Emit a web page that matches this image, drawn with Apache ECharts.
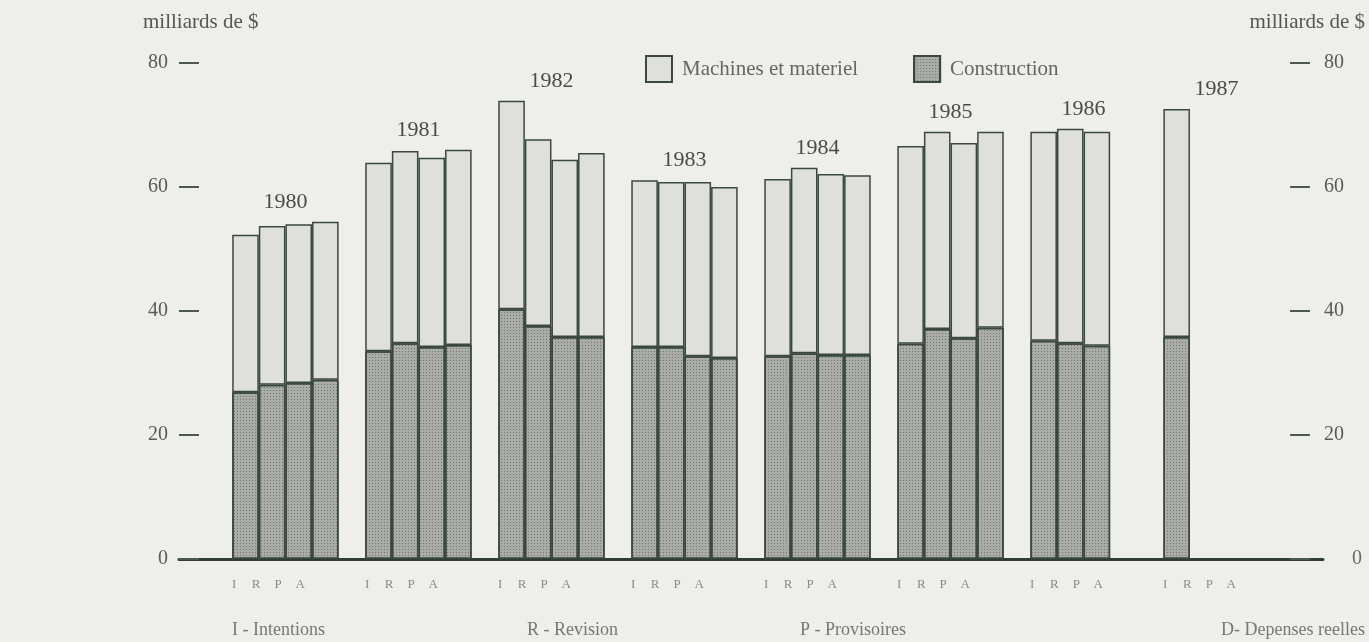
<!DOCTYPE html>
<html>
<head>
<meta charset="utf-8">
<script src="https://cdn.jsdelivr.net/npm/echarts@6/dist/echarts.min.js"></script>
<style>
  html, body { margin: 0; padding: 0; background: #eeeeea; }
  #chart { width: 1369px; height: 642px; }
</style>
</head>
<body>
<div id="chart"></div>
<script>
// Investment intentions / revisions, stacked by type, billions of dollars.
const years = ["1980", "1981", "1982", "1983", "1984", "1985", "1986", "1987"];
const phases = ["I", "R", "P", "A"];
// per year: I, R, P, A (missing estimates are simply absent)
const construction = [
  [26.9, 28.1, 28.4, 28.9],
  [33.5, 34.8, 34.2, 34.5],
  [40.3, 37.6, 35.8, 35.8],
  [34.2, 34.2, 32.7, 32.4],
  [32.7, 33.2, 32.9, 32.9],
  [34.7, 37.1, 35.6, 37.3],
  [35.2, 34.8, 34.4],
  [35.8],
];
const machines = [
  [25.4, 25.6, 25.6, 25.5],
  [30.4, 31.0, 30.5, 31.5],
  [33.6, 30.1, 28.6, 29.7],
  [26.9, 26.6, 28.1, 27.6],
  [28.6, 29.9, 29.2, 29.0],
  [31.9, 31.8, 31.5, 31.6],
  [33.7, 34.6, 34.5],
  [36.8],
];

const FONT = "'Liberation Serif', 'DejaVu Serif', serif";
const LEAD = 2, GAP = 1, TAIL = 2; // empty slots before, between and after groups

// build one category slot per bar position
const slots = [], slotCons = [], slotMach = [], groupR = [], groupMax = [];
const blank = () => { slots.push("s" + slots.length); slotCons.push("-"); slotMach.push("-"); };
for (let i = 0; i < LEAD; i++) blank();
years.forEach((y, g) => {
  if (g > 0) for (let i = 0; i < GAP; i++) blank();
  let mx = 0;
  phases.forEach((p, k) => {
    if (k === 1) groupR.push(slots.length);
    slots.push(y + p);
    const c = construction[g][k], m = machines[g][k];
    slotCons.push(c == null ? "-" : c);
    slotMach.push(m == null ? "-" : m);
    if (c != null) mx = Math.max(mx, c + m);
  });
  groupMax.push(mx);
});
for (let i = 0; i < TAIL; i++) blank();

const chart = echarts.init(document.getElementById("chart"), null, { renderer: "canvas" });

const barBorder = { borderColor: "#3b4840", borderWidth: 1.5 };
const yAxisBase = {
  type: "value", min: 0, max: 80, interval: 20,
  axisLine: { show: false },
  axisTick: { show: true, inside: true, length: 20, lineStyle: { color: "#4a5a50", width: 2 } },
  splitLine: { show: false },
  axisLabel: { fontFamily: FONT, fontSize: 20, color: "#5a5a58" },
};

chart.setOption({
  backgroundColor: "#eeeeea",
  animation: false,
  textStyle: { fontFamily: FONT },
  legend: {
    left: 640, top: 50, icon: "rect",
    itemWidth: 26, itemHeight: 26, itemGap: 55,
    data: ["Machines et materiel", "Construction"],
    textStyle: { fontFamily: FONT, fontSize: 21, color: "#666", padding: [0, 0, 0, 5] },
  },
  grid: { left: 179, right: 46, top: 63, bottom: 83 },
  xAxis: {
    type: "category", data: slots,
    axisLine: { lineStyle: { color: "#2f3d34", width: 3 } },
    axisTick: { show: false },
    axisLabel: {
      interval: 0, margin: 19,
      formatter: (v, i) => (groupR.includes(i) ? phases.map((p) => "{l|" + p + "}").join("") + "{e|}" : ""),
      rich: {
        l: { width: 22, align: "center", fontFamily: FONT, fontSize: 13, color: "#8a8a86" },
        e: { width: 10 },
      },
    },
  },
  yAxis: [
    { ...yAxisBase, position: "left", axisLabel: { ...yAxisBase.axisLabel, margin: 11 } },
    {
      ...yAxisBase, position: "right", offset: -13,
      axisLabel: {
        ...yAxisBase.axisLabel, margin: 14,
        formatter: (v) => (v === 0 ? "{z|0}" : String(v)),
        rich: { z: { padding: [0, 0, 0, 28], fontFamily: FONT, fontSize: 20, color: "#6a6a68" } },
      },
    },
  ],
  series: [
    {
      name: "Construction", type: "bar", stack: "tot", data: slotCons,
      barWidth: "100%",
      itemStyle: {
        color: "#a9ada6", ...barBorder,
        decal: { symbol: "rect", symbolSize: 1, dashArrayX: [1, 2], dashArrayY: [1, 2], color: "rgba(45,55,48,0.45)" },
      },
    },
    {
      name: "Machines et materiel", type: "bar", stack: "tot", data: slotMach,
      barWidth: "100%",
      itemStyle: { color: "#dfe0dc", ...barBorder },
    },
    {
      type: "custom", name: "years", silent: true,
      data: groupR.map((r, g) => [r, groupMax[g]]),
      renderItem: (params, api) => {
        const p = api.coord([api.value(0), api.value(1)]);
        const w = api.size([1, 0])[0];
        return {
          type: "text", x: p[0] + w / 2, y: p[1] - 9,
          style: { text: years[params.dataIndex], textAlign: "center", textVerticalAlign: "bottom",
                   font: "22px " + FONT, fill: "#4a4a48" },
        };
      },
    },
  ],
  graphic: [
    { type: "text", left: 143, top: 12, style: { text: "milliards de $", font: "21px " + FONT, fill: "#555" } },
    { type: "text", right: 4, top: 12, style: { text: "milliards de $", font: "21px " + FONT, fill: "#555" } },
    { type: "text", left: 232, top: 621, style: { text: "I - Intentions", font: "18px " + FONT, fill: "#777" } },
    { type: "text", left: 527, top: 621, style: { text: "R - Revision", font: "18px " + FONT, fill: "#777" } },
    { type: "text", left: 800, top: 621, style: { text: "P - Provisoires", font: "18px " + FONT, fill: "#777" } },
    { type: "text", right: 4, top: 621, style: { text: "D- Depenses reelles", font: "18px " + FONT, fill: "#777" } },
  ],
});
</script>
</body>
</html>
